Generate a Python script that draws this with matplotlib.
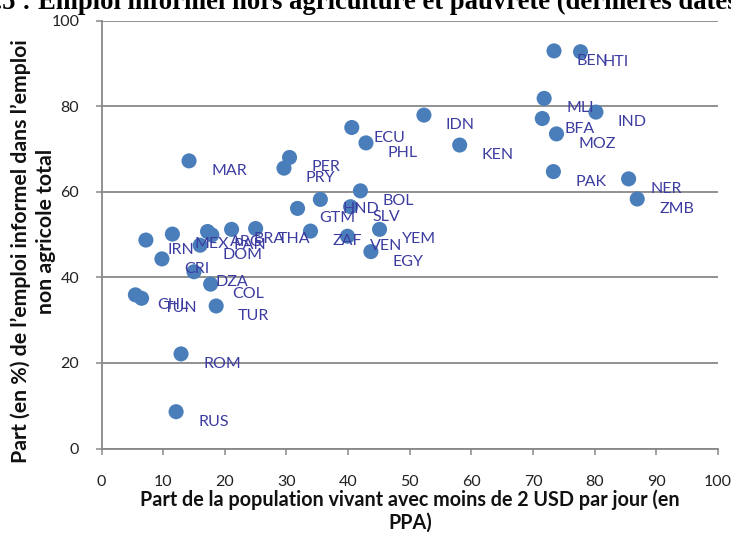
import matplotlib
matplotlib.use("Agg")
import matplotlib.pyplot as plt

# Informal non-agricultural employment vs. poverty (latest available year)
countries = ["IRN", "MEX", "ARG", "PAN", "DOM", "BRA", "THA", "CRI", "DZA", "COL",
             "CHL", "TUN", "TUR", "ROM", "RUS", "MAR", "PER", "PRY", "GTM", "HND",
             "BOL", "SLV", "ZAF", "VEN", "YEM", "EGY", "ECU", "PHL", "IDN", "KEN",
             "BEN", "HTI", "MLI", "IND", "BFA", "MOZ", "PAK", "NER", "ZMB"]
poverty_2usd = [7.2, 11.5, 17.2, 17.9, 16.0, 21.1, 25.0, 9.8, 15.0, 17.7,
                5.5, 6.5, 18.6, 12.9, 12.1, 14.2, 30.5, 29.6, 31.8, 35.5,
                42.0, 40.4, 33.9, 39.9, 45.1, 43.7, 40.6, 42.9, 52.3, 58.1,
                73.4, 77.7, 71.8, 80.2, 71.5, 73.8, 73.3, 85.5, 86.9]
informal_share = [48.7, 50.1, 50.7, 49.9, 47.5, 51.2, 51.4, 44.3, 41.3, 38.4,
                  35.9, 35.1, 33.3, 22.1, 8.6, 67.2, 68.0, 65.5, 56.1, 58.2,
                  60.2, 56.5, 50.8, 49.6, 51.2, 46.0, 75.0, 71.4, 77.9, 70.9,
                  92.9, 92.7, 81.8, 78.6, 77.1, 73.5, 64.7, 63.0, 58.3]

x_ticks = list(range(0, 101, 10))
y_ticks = list(range(0, 101, 20))

W, H = 731, 533
DOT = "#4A7EBB"
LABEL = "#3C3CA0"
GRID = "#888888"
plt.rcParams["font.family"] = ["Lato", "DejaVu Sans"]

fig = plt.figure(figsize=(W / 100, H / 100), dpi=100)
left, right, top, bottom = 101.5, 718.0, 20.5, 448.5
ax = fig.add_axes([left / W, 1 - bottom / H, (right - left) / W, (bottom - top) / H])
ax.set_xlim(0, 100)
ax.set_ylim(0, 100)
ax.set_xticks(x_ticks)
ax.set_yticks(y_ticks)

ax.yaxis.grid(True, color=GRID, lw=1.3)
ax.set_axisbelow(True)
for s in ("top", "right"):
    ax.spines[s].set_visible(False)
for s in ("left", "bottom"):
    ax.spines[s].set_color(GRID)
    ax.spines[s].set_linewidth(1.3)

ax.tick_params(axis="both", direction="out", length=4, width=1.1, color=GRID,
               labelsize=11.5, labelcolor="#222222")
ax.tick_params(axis="x", pad=15)
ax.tick_params(axis="y", pad=12)

ax.scatter(poverty_2usd, informal_share, s=118, color=DOT, edgecolors="none", zorder=3)
for name, xv, yv in zip(countries, poverty_2usd, informal_share):
    ax.annotate(name, (xv, yv), xytext=(22, -10), textcoords="offset pixels",
                ha="left", va="center", fontsize=11.5, color=LABEL, zorder=4)

# Axis titles
fig.text(410 / W, 1 - 511 / H,
         "Part de la population vivant avec moins de 2 USD par jour (en\nPPA)",
         ha="center", va="center", fontsize=14.2, fontweight="bold",
         linespacing=1.15, color="#111111")
fig.text(21 / W, 1 - 251 / H,
         "Part (en %) de l\u2019emploi informel dans l\u2019emploi",
         ha="center", va="center", rotation=90, fontsize=15.3, fontweight="bold",
         color="#111111")
fig.text(46 / W, 1 - 231 / H, "non agricole total",
         ha="center", va="center", rotation=90, fontsize=15.3, fontweight="bold",
         color="#111111")

# Chart title sitting at the top edge of the canvas
title_y = 1 - 9 / H
fig.text(31 / W, title_y, "Graphique 1.5 :", ha="right", va="baseline",
         fontsize=19.2, fontweight="bold", family="Liberation Serif")
fig.text(38 / W, title_y,
         "Emploi informel hors agriculture et pauvret\u00e9 (derni\u00e8res dates disponibles)",
         ha="left", va="baseline", fontsize=19.2, fontweight="bold",
         family="Liberation Serif")

fig.savefig("out.png", dpi=100)
